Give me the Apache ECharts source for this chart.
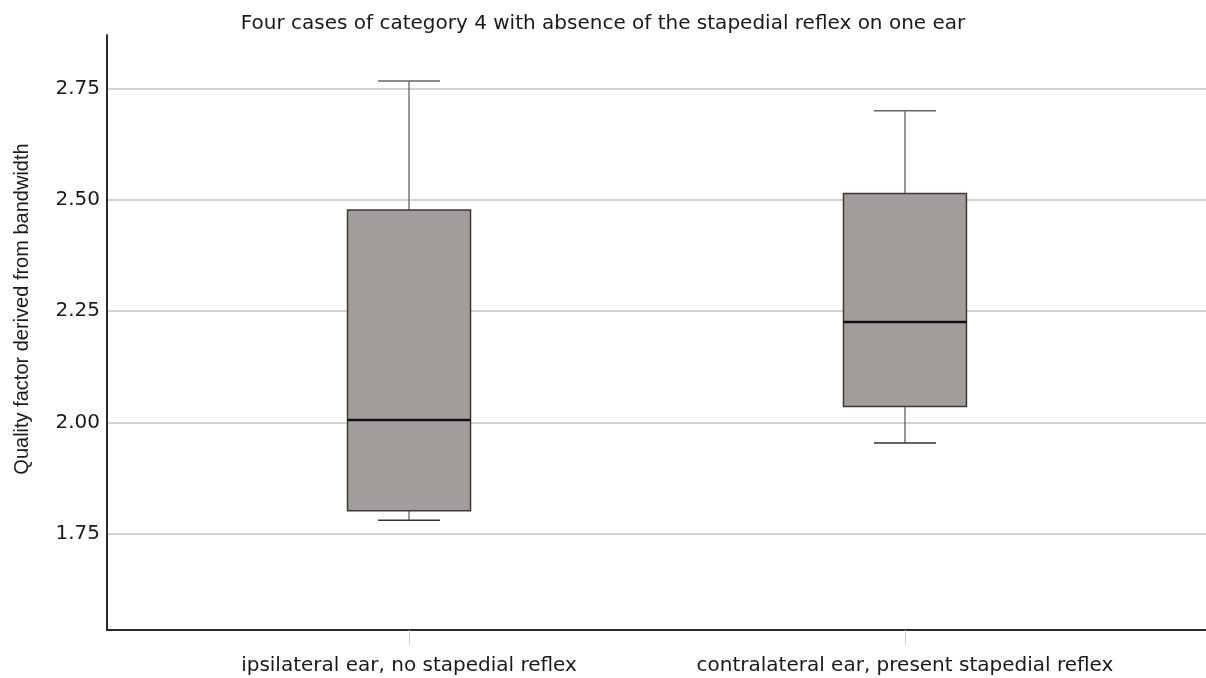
<!DOCTYPE html>
<html>
<head>
<meta charset="utf-8">
<script src="https://cdn.jsdelivr.net/npm/echarts@6/dist/echarts.min.js"></script>
<style>
html,body{margin:0;padding:0;background:#fff;}
#c{width:1206px;height:678px;}
</style>
</head>
<body>
<div id="c"></div>
<script>
// ---- data ----
const categories = ['ipsilateral ear, no stapedial reflex', 'contralateral ear, present stapedial reflex'];
// [min, Q1, median, Q3, max]
const ipsilateralBox = [1.781, 1.802, 2.006, 2.477, 2.767];
const contralateralBox = [1.954, 2.036, 2.226, 2.514, 2.700];
const yTickValues = [1.75, 2.00, 2.25, 2.50, 2.75];
const titleText = 'Four cases of category 4 with absence of the stapedial reflex on one ear';
const yAxisTitle = 'Quality factor derived from bandwidth';

const boxes = [ipsilateralBox, contralateralBox];
const seriesData = boxes.map((b, i) => [i].concat(b));

const BOX_W = 123;
const CAP_W = 62;
const FONT = 'DejaVu Sans';

const chart = echarts.init(document.getElementById('c'), null, {renderer: 'canvas'});
chart.setOption({
  backgroundColor: '#ffffff',
  animation: false,
  title: {
    text: titleText,
    left: 'center',
    top: 9,
    textStyle: {fontFamily: FONT, fontSize: 20, fontWeight: 'normal', color: '#1a1a1a'}
  },
  grid: {left: 107, right: 0, top: 35, bottom: 48, containLabel: false},
  xAxis: {
    type: 'value',
    min: -0.609,
    max: 1.607,
    axisLine: {show: true, onZero: false, lineStyle: {color: '#2b2b2b', width: 2}},
    axisTick: {show: true, customValues: [0, 1], length: 15, lineStyle: {color: '#cccccc', width: 1}},
    axisLabel: {
      show: true, customValues: [0, 1], margin: 26,
      fontFamily: FONT, fontSize: 20, color: '#1a1a1a',
      formatter: v => categories[Math.round(v)] || ''
    },
    splitLine: {show: false}
  },
  yAxis: {
    type: 'value',
    min: 1.5345,
    max: 2.870,
    axisLine: {show: true, onZero: false, lineStyle: {color: '#2b2b2b', width: 2}},
    axisTick: {show: false, customValues: yTickValues},
    axisLabel: {
      customValues: yTickValues, margin: 7,
      fontFamily: FONT, fontSize: 20, color: '#1a1a1a',
      formatter: v => v.toFixed(2)
    },
    splitLine: {show: true, lineStyle: {color: '#c4c4c4', width: 1.5}}
  },
  graphic: [{
    type: 'text',
    x: 22, y: 309,
    rotation: Math.PI / 2,
    style: {
      text: yAxisTitle, fontFamily: 'Liberation Sans', fontSize: 20,
      fill: '#1a1a1a', align: 'center', verticalAlign: 'middle'
    }
  }],
  series: [{
    type: 'custom',
    data: seriesData,
    encode: {x: 0, y: [1, 2, 3, 4, 5]},
    renderItem: function (params, api) {
      const x = api.value(0);
      const pMin = api.coord([x, api.value(1)]);
      const pQ1 = api.coord([x, api.value(2)]);
      const pMed = api.coord([x, api.value(3)]);
      const pQ3 = api.coord([x, api.value(4)]);
      const pMax = api.coord([x, api.value(5)]);
      const cx = pMed[0];
      const hw = BOX_W / 2, ch = CAP_W / 2;
      const wStyle = {stroke: '#555555', lineWidth: 1.2};
      return {
        type: 'group',
        children: [
          {type: 'line', shape: {x1: cx, y1: pMax[1], x2: cx, y2: pQ3[1]}, style: wStyle},
          {type: 'line', shape: {x1: cx, y1: pQ1[1], x2: cx, y2: pMin[1]}, style: wStyle},
          {type: 'line', shape: {x1: cx - ch, y1: pMax[1], x2: cx + ch, y2: pMax[1]}, style: {stroke: '#666666', lineWidth: 1.5}},
          {type: 'line', shape: {x1: cx - ch, y1: pMin[1], x2: cx + ch, y2: pMin[1]}, style: {stroke: '#333333', lineWidth: 1.5}},
          {type: 'rect', shape: {x: cx - hw, y: pQ3[1], width: BOX_W, height: pQ1[1] - pQ3[1]},
           style: {fill: '#a19d9b', stroke: '#3a3a3a', lineWidth: 1.5}},
          {type: 'line', shape: {x1: cx - hw, y1: pMed[1], x2: cx + hw, y2: pMed[1]}, style: {stroke: '#111111', lineWidth: 2.5}}
        ]
      };
    }
  }]
});
</script>
</body>
</html>
